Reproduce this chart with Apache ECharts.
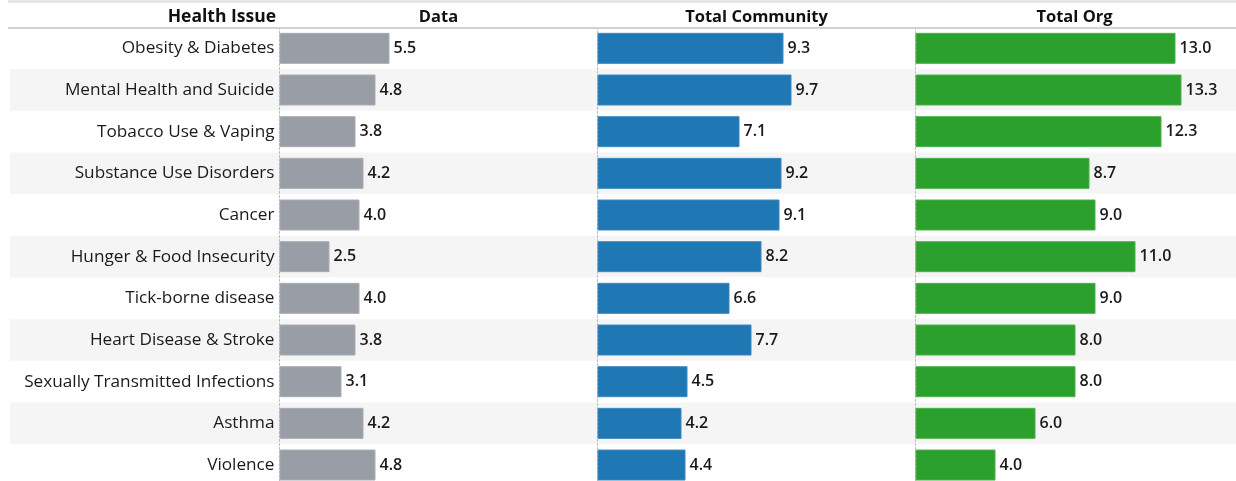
<!DOCTYPE html>
<html><head><meta charset="utf-8">
<script src="https://cdn.jsdelivr.net/npm/echarts@6/dist/echarts.min.js"></script>
<style>html,body{margin:0;padding:0;background:#fff;overflow:hidden}#c{width:1236px;height:492px}</style>
</head><body><div id="c"></div>
<script>
const categories = ["Obesity & Diabetes","Mental Health and Suicide","Tobacco Use & Vaping","Substance Use Disorders","Cancer","Hunger & Food Insecurity","Tick-borne disease","Heart Disease & Stroke","Sexually Transmitted Infections","Asthma","Violence"];
const dataVals = [5.5,4.8,3.8,4.2,4.0,2.5,4.0,3.8,3.1,4.2,4.8];
const communityVals = [9.3,9.7,7.1,9.2,9.1,8.2,6.6,7.7,4.5,4.2,4.4];
const orgVals = [13.0,13.3,12.3,8.7,9.0,11.0,9.0,8.0,8.0,6.0,4.0];
const headers = ["Health Issue","Data","Total Community","Total Org"];

const FONT = "'Open Sans', 'Noto Sans', sans-serif";
const TOP = 27.5, ROWH = 41.67, H = ROWH * categories.length;
const PW = 318, L0 = 279.5, XMAX = 15.9;
const colors = ['#999da5','#1f77b4','#2ca02c'];
const borders = ['#a9acb2','#3d89c0','#4cb04c'];
const series = [dataVals, communityVals, orgVals];

const grids = [{left:10, right:0, top:TOP, height:H}];
const xAxes = [{gridIndex:0, type:'value', show:false, min:0, max:1}];
const yAxes = [{gridIndex:0, type:'category', data:categories, inverse:true, axisLine:{show:false}, axisTick:{show:false}, axisLabel:{show:false},
  splitArea:{show:true, areaStyle:{color:['#ffffff','#f5f5f5']}}}];
const ser = [];
for (let i=0;i<3;i++){
  grids.push({left:L0 + i*PW, width:PW, top:TOP, height:H});
  xAxes.push({gridIndex:i+1, type:'value', min:0, max:XMAX, show:false});
  yAxes.push({gridIndex:i+1, type:'category', data:categories, inverse:true,
    axisLine:{show:true, lineStyle:{color:'#bbbbbb', type:[2,2], width:1}},
    axisTick:{show:false},
    axisLabel:{show:i===0, fontFamily:FONT, fontSize:17.2, color:'#1a1a1a', margin:5}});
  ser.push({type:'bar', xAxisIndex:i+1, yAxisIndex:i+1, data:series[i], barWidth:31,
    itemStyle:{color:colors[i], borderColor:borders[i], borderWidth:1},
    label:{show:true, position:'right', distance:4, fontFamily:FONT, fontSize:16, fontWeight:600, color:'#1a1a1a',
      formatter:p=>p.value.toFixed(1)}});
}
const graphic = [
  {type:'rect', left:8, top:0, z:100, shape:{width:1228, height:3}, style:{fill:'#e6e6e6'}, silent:true},
  {type:'rect', left:8, top:27, z:100, shape:{width:1228, height:2}, style:{fill:'#d2d2d2'}, silent:true},
  {type:'text', x:276, y:17, z:100, style:{text:headers[0], font:"bold 17.5px "+FONT, fill:'#111', align:'right', verticalAlign:'middle'}},
];
for (let i=0;i<3;i++){
  graphic.push({type:'text', x:L0 + i*PW + PW/2, y:17, z:100, style:{text:headers[i+1], font:"bold 16.5px "+FONT, fill:'#111', align:'center', verticalAlign:'middle'}});
}
const chart = echarts.init(document.getElementById('c'), null, {renderer:'canvas'});
chart.setOption({animation:false, grid:grids, xAxis:xAxes, yAxis:yAxes, series:ser, graphic:graphic});
</script></body></html>
